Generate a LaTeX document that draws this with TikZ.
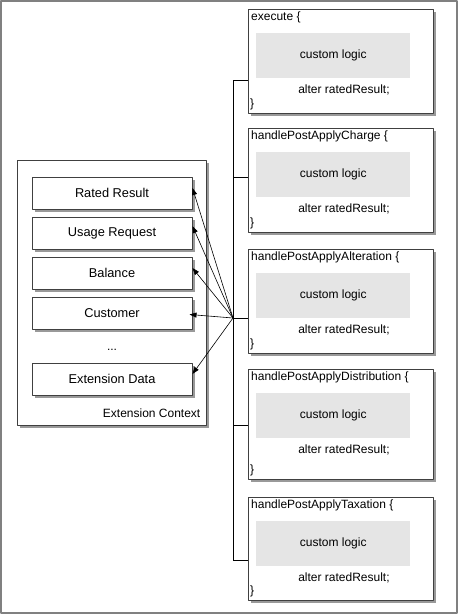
\documentclass[tikz,border=0pt]{standalone}
\usepackage{fontspec}
\setmainfont{Liberation Sans}
\usetikzlibrary{positioning,calc,shadows,arrows.meta}
\begin{document}
\begin{tikzpicture}[x=1pt,y=-1pt,>={Triangle[length=7pt,width=5pt]}, font=\fontsize{12}{14}\selectfont, line join=round,
		panel/.style={draw=black!75, line width=1pt, fill=white, drop shadow={shadow xshift=2.5pt,shadow yshift=-2.5pt,fill=black!40,opacity=1}},
		item/.style={panel, minimum width=160pt, minimum height=32pt, inner sep=0pt, font=\fontsize{12.8}{15}\selectfont},
		logic/.style={fill=black!10, minimum width=154pt, minimum height=45pt, inner sep=0pt}]
				\useasboundingbox (0,0) rectangle (458,614);
				\draw[black!50, line width=2pt] (1,1) rectangle (457,613);
				\node[panel, minimum width=189pt, minimum height=265pt] (ctx) at (111.5,292.5) {};
				\node[anchor=south east, inner sep=1pt] at ([shift={(-5pt,6.5pt)}]ctx.south east) {Extension Context};
				\node[item] (rated) at (112,193) {Rated Result};
				\node[item, below=7pt of rated] (usage) {Usage Request};
				\node[item, below=7pt of usage] (bal) {Balance};
				\node[item, below=7pt of bal] (cust) {Customer};
				\node[item, below=33pt of cust] (ext) {Extension Data};
				\node (dots) at ($(cust.south)!0.5!(ext.north)+(0,4)$) {...};
				\foreach \n/\t/\h/\s/\f in {exec/9/104/80/execute, chg/128/104/177/handlePostApplyCharge, alt/249/104/318/handlePostApplyAlteration, dist/369/110/425/handlePostApplyDistribution, tax/497/103/560/handlePostApplyTaxation}
				{\node[panel, anchor=north west, minimum width=185pt, minimum height=\h pt, inner sep=0pt] (\n) at (248,\t) {};
					\node[below right=1pt and 1.5pt of \n.north west, inner sep=1.5pt] {\f\ \{};
					\node[logic, below right=24pt and 8pt of \n.north west] {custom logic};
					\node at ($(\n.north)+(3,81)$) {alter ratedResult;};
					\node[above right=3pt and 1pt of \n.south west, inner sep=1pt] {\}};
					\draw[line width=0.8pt] (233,\s) -- (\n.west |- 0,\s);}
				\coordinate (bustop) at (233,80);
				\coordinate (busend) at (233,560);
				\coordinate (hub) at (233,318);
				\draw[line width=0.8pt] (bustop) -- (busend);
				\foreach \t/\dx/\dy in {rated/0/5, usage/0/7, bal/0/5, cust/-3/-1.5, ext/0/5}
				{\draw[->, line width=0.6pt] (hub) -- ([shift={(\dx pt,\dy pt)}]\t.east);}
			\end{tikzpicture}
\end{document}
